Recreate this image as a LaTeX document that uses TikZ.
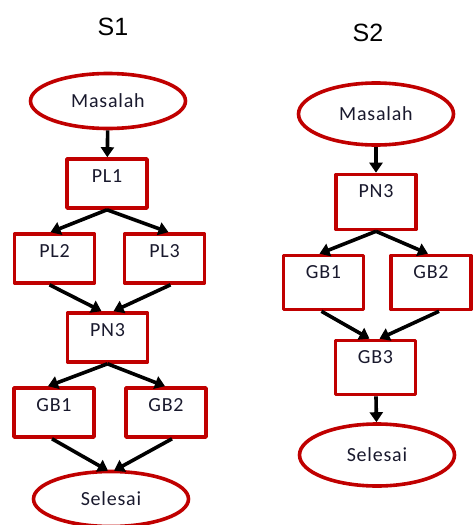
\documentclass[tikz,border=0pt]{standalone}
\usepackage{fontspec}
\setmainfont{Carlito}[LetterSpace=4]
\newfontfamily\titlefont{Liberation Sans}
\usetikzlibrary{shapes.geometric,arrows.meta}
\definecolor{boxred}{RGB}{192,0,0}
\definecolor{labelink}{RGB}{25,25,45}
\begin{document}
\begin{tikzpicture}[x=1pt,y=-1pt,line join=round,>={Triangle[length=10pt,width=13pt]},
  box/.style={draw=boxred,line width=3.6pt,minimum width=80pt,minimum height=48pt,
    inner ysep=4pt,text height=19pt,text depth=22pt,text=labelink,
    font=\fontsize{20}{20}\selectfont},
  oval/.style={ellipse,draw=boxred,line width=3.6pt,minimum width=155pt,minimum height=55pt,
    inner sep=0pt,text=labelink,font=\fontsize{20}{20}\selectfont},
  title/.style={font=\titlefont\fontsize{25}{25}\selectfont},
  link/.style={->,line width=3.6pt}]
\useasboundingbox (0,0) rectangle (473,525);

% S1
\node[title] (t1) at (113,27) {S1};
\node[oval] (m1) at (108,101) {Masalah};
\node[box] (pl1) at (107,183.5) {PL1};
\node[box] (pl2) at (54.5,258.5) {PL2};
\node[box] (pl3) at (164.5,258.5) {PL3};
\node[box] (pn1) at (107.5,337.5) {PN3};
\node[box] (gb11) at (54,412.5) {GB1};
\node[box] (gb12) at (166,412.5) {GB2};
\node[oval] (s1) at (111,499) {Selesai};

\draw[link] (m1) -- (pl1);
\draw[link] (pl1.south) -- ([xshift=-4pt]pl2.north);
\draw[link] (pl1.south) -- ([xshift=4pt]pl3.north);
\draw[link] ([xshift=-5pt]pl2.south) -- ([xshift=-6pt]pn1.north);
\draw[link] ([xshift=6pt]pl3.south) -- ([xshift=6pt]pn1.north);
\draw[link] (pn1.south) -- ([xshift=-6pt]gb11.north);
\draw[link] (pn1.south) -- ([xshift=-1pt]gb12.north);
\draw[link] ([xshift=-2pt]gb11.south) -- ([xshift=-3pt,yshift=-1pt]s1.north);
\draw[link] ([xshift=6pt]gb12.south) -- ([xshift=3pt,yshift=-1pt]s1.north);

% S2
\node[title] (t2) at (368,33) {S2};
\node[oval,minimum height=62pt] (m2) at (376,114) {Masalah};
\node[box,minimum height=54pt,text depth=28pt] (pn2) at (376,202) {PN3};
\node[box,minimum height=53pt,text depth=27pt] (gb21) at (323.5,282.5) {GB1};
\node[box,minimum height=53pt,text depth=27pt] (gb22) at (431,282.5) {GB2};
\node[box,minimum height=53pt,text depth=27pt] (gb23) at (375.5,367.5) {GB3};
\node[oval,minimum height=62pt] (s2) at (377,455) {Selesai};

\draw[link] (m2) -- (pn2);
\draw[link] (pn2.south) -- ([xshift=-4pt]gb21.north);
\draw[link] (pn2.south) -- ([xshift=-3pt]gb22.north);
\draw[link] ([xshift=-2pt]gb21.south) -- ([xshift=-6pt]gb23.north);
\draw[link] ([xshift=8pt]gb22.south) -- ([xshift=4pt]gb23.north);
\draw[link] (gb23) -- (s2);
\end{tikzpicture}
\end{document}
